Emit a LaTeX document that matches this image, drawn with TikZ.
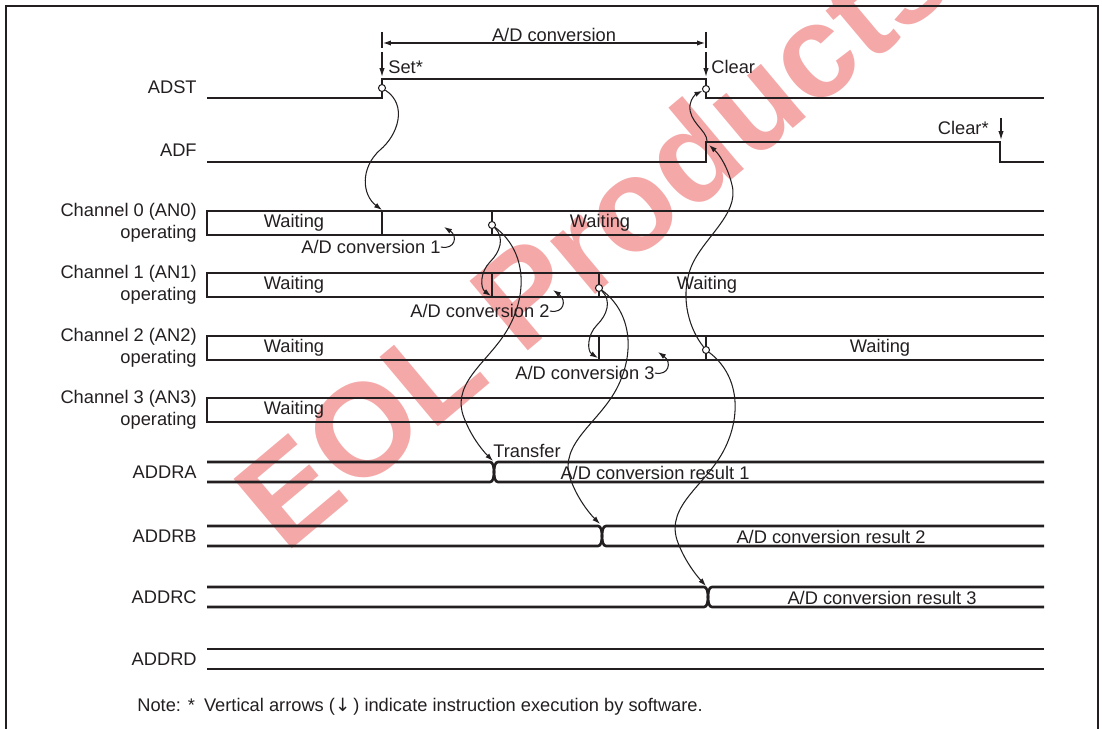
\documentclass[tikz,border=0pt]{standalone}
\usepackage{fontspec}
\setmainfont{Liberation Sans}
\newfontfamily\arrowfont{DejaVu Sans}
\usetikzlibrary{arrows.meta}
\definecolor{tdInk}{HTML}{231F20}
\definecolor{tdMark}{HTML}{F5A8A8}
\tikzset{
  sig/.style={draw=tdInk, line width=1.5pt},
  txt/.style={font=\fontsize{10.4}{12.5}\selectfont, text=tdInk, inner sep=0pt},
  sname/.style={txt, anchor=east, align=right},
  knot/.style={circle, draw=tdInk, fill=white, line width=0.6pt, inner sep=0pt, minimum size=0.14cm},
  link/.style={-{Latex[length=4.5pt,width=3pt]}, draw=tdInk, line width=0.6pt},
  swarr/.style={-{Latex[length=5pt,width=3pt]}, draw=tdInk, line width=0.7pt},
  wmark/.style={font=\fontsize{75}{75}\selectfont\bfseries, text=tdMark, rotate=40, inner sep=0pt},
}

\begin{document}
\begin{tikzpicture}[x=0.02cm, y=-0.02cm]
\useasboundingbox (0,0) rectangle (1102,729);
\begin{scope}
  \clip (0,0) rectangle (1102,729);
  \node[wmark] (wm) at (592,236) {EOL Products};
  \draw[draw=tdInk, line width=1.1pt] (6,740) -- (6,6) -- (1098,6) -- (1098,740);
\end{scope}

\node[sname] (nADST) at (197,87) {ADST};
\node[sname] (nADF) at (197,150) {ADF};
\foreach \i/\y in {0/223,1/285,2/348,3/410}
  \node[sname] (nch\i) at (197,\y) {Channel \i\ (AN\i)\\operating};
\foreach \r/\y in {A/472,B/536,C/597,D/659}
  \node[sname] (nADDR\r) at (197,\y) {ADDR\r};

\draw[sig] (207,98) -- (382,98) -- (382,79) -- (706,79) -- (706,98) -- (1044,98);
\draw[sig] (207,162) -- (706,162) -- (706,142) -- (1000,142) -- (1000,162) -- (1044,162);
\foreach \t in {211,273,336,398}
  \draw[sig] (1044,\t) -- (207,\t) -- (207,\t+24) -- (1044,\t+24);
\foreach \x/\t in {382/211,492/211,492/273,599/273,599/336,706/336}
  \draw[sig] (\x,\t) -- (\x,\t+24);
\foreach \t/\x in {462/494,526/602,587/708} {
  \draw[sig] (207,\t) -- (\x-4,\t) .. controls (\x-1,\t) and (\x,\t+5) .. (\x,\t+10)
    .. controls (\x,\t+15) and (\x-1,\t+20) .. (\x-4,\t+20) -- (207,\t+20);
  \draw[sig] (1044,\t) -- (\x+4,\t) .. controls (\x+1,\t) and (\x,\t+5) .. (\x,\t+10)
    .. controls (\x,\t+15) and (\x+1,\t+20) .. (\x+4,\t+20) -- (1044,\t+20);
}
\draw[sig] (207,649) -- (1044,649) (207,669) -- (1044,669);

\foreach \x/\y/\n in {294/223/0,294/285/1,294/348/2,294/410/3,600/223/4,707/285/5,880/348/6}
  \node[txt] (wt\n) at (\x,\y) {Waiting};
\node[txt] (cv1) at (371,247) {A/D conversion 1};
\node[txt] (cv2) at (480,311) {A/D conversion 2};
\node[txt] (cv3) at (585,373) {A/D conversion 3};
\node[txt, anchor=west] (trf) at (493,451) {Transfer};
\node[txt] (res1) at (655,473) {A/D conversion result 1};
\node[txt] (res2) at (831,537) {A/D conversion result 2};
\node[txt] (res3) at (882,598) {A/D conversion result 3};
\node[txt] (span) at (554,35) {A/D conversion};
\node[txt, anchor=west] (set) at (388,67) {Set*};
\node[txt, anchor=west] (clr) at (711,67) {Clear};
\node[txt, anchor=east] (clrs) at (989,128) {Clear*};
\node[txt, anchor=west] (note) at (137,707) {Note: *\enspace Vertical arrows ({\arrowfont ↓}\,) indicate instruction execution by software.};

\draw[draw=tdInk, line width=0.6pt] (382,32) -- (382,48) (706,32) -- (706,48);
\draw[{Latex[length=4.5pt,width=3pt]}-{Latex[length=4.5pt,width=3pt]}, draw=tdInk, line width=0.6pt] (383,43) -- (705,43);
\draw[swarr] (382,52) -- (382,77);
\draw[swarr] (706,52) -- (706,77);
\draw[swarr] (1001,118) -- (1001,140);

\node[knot] (k0) at (382,88) {};
\node[knot] (k1) at (706,89) {};
\node[knot] (k2) at (492,225) {};
\node[knot] (k3) at (599,288) {};
\node[knot] (k4) at (706,350) {};
\coordinate (d0) at (382,210);
\coordinate (d1) at (491,296);
\coordinate (d2) at (598,358);
\coordinate (xA) at (493,461);
\coordinate (xB) at (600,524);
\coordinate (xC) at (706,586);
\coordinate (fR) at (709,145);
\coordinate (fT) at (707,141);

\draw[link] (k0) .. controls (408,105) and (398,135) .. (380,150) .. controls (360,168) and (362,195) .. (d0);
\draw[link] (k2) .. controls (505,238) and (500,252) .. (490,262) .. controls (480,272) and (480,288) .. (d1);
\draw[link] (k2) .. controls (525,250) and (528,290) .. (510,325) .. controls (492,360) and (452,380) .. (463,415) .. controls (470,435) and (482,450) .. (xA);
\draw[link] (k3) .. controls (612,301) and (607,315) .. (597,325) .. controls (587,335) and (587,351) .. (d2);
\draw[link] (k3) .. controls (632,313) and (635,353) .. (617,388) .. controls (599,423) and (559,443) .. (570,478) .. controls (577,498) and (589,513) .. (xB);
\draw[link] (k4) .. controls (739,375) and (742,415) .. (724,450) .. controls (706,485) and (666,505) .. (677,540) .. controls (684,560) and (696,575) .. (xC);
\draw[link] (k4) .. controls (690,330) and (680,300) .. (690,270) .. controls (700,240) and (740,215) .. (732,185) .. controls (728,168) and (720,155) .. (fR);
\draw[link] (fT) .. controls (707,130) and (688,122) .. (690,105) .. controls (691,98) and (696,94) .. (k1);
\draw[link] (cv1.east) .. controls (455,250) and (458,236) .. (444,227);
\draw[link] (cv2.east) .. controls (564,314) and (567,300) .. (553,290);
\draw[link] (cv3.east) .. controls (669,376) and (672,362) .. (658,352);
\end{tikzpicture}
\end{document}
